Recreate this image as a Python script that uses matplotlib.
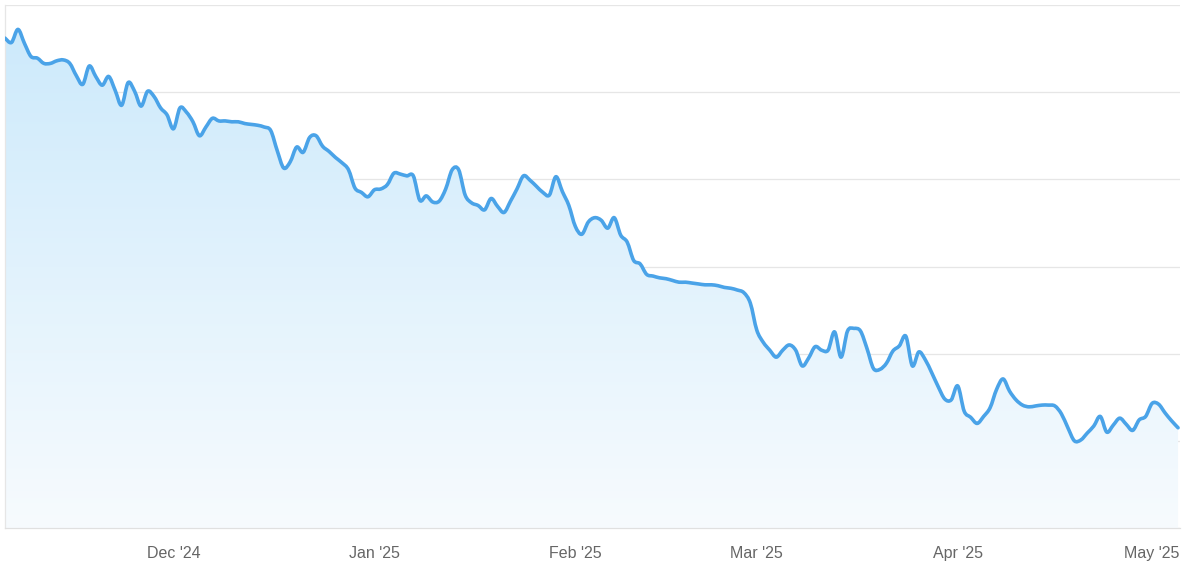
import numpy as np
import pandas as pd
import matplotlib
matplotlib.use("Agg")
import matplotlib.pyplot as plt
import matplotlib.dates as mdates
from matplotlib.path import Path
from matplotlib.patches import PathPatch
from matplotlib.colors import LinearSegmentedColormap

start_date = "2024-11-05"
values = [
    56.2, 55.7, 57.2, 55.6, 54.1, 53.9, 53.3, 53.3, 53.6, 53.7,
    53.3, 51.9, 50.9, 53.0, 51.8, 50.8, 51.8, 50.2, 48.5, 51.1,
    50.1, 48.4, 50.1, 49.5, 48.2, 47.4, 45.8, 48.2, 47.7, 46.6,
    45.0, 46.0, 47.0, 46.7, 46.7, 46.6, 46.6, 46.4, 46.3, 46.2,
    46.0, 45.6, 43.3, 41.3, 42.0, 43.7, 43.1, 44.8, 45.0, 43.8,
    43.2, 42.5, 41.9, 41.1, 39.0, 38.5, 38.0, 38.8, 38.9, 39.4,
    40.7, 40.6, 40.4, 40.4, 37.6, 38.1, 37.4, 37.5, 38.9, 41.1,
    41.1, 38.2, 37.3, 37.0, 36.5, 37.8, 36.9, 36.2, 37.5, 38.9,
    40.4, 39.9, 39.2, 38.5, 38.2, 40.3, 38.6, 37.0, 34.6, 33.7,
    35.1, 35.6, 35.3, 34.4, 35.6, 33.6, 32.8, 30.7, 30.3, 29.1,
    28.9, 28.7, 28.6, 28.4, 28.2, 28.2, 28.1, 28.0, 27.9, 27.9,
    27.8, 27.6, 27.5, 27.3, 27.0, 25.8, 22.7, 21.3, 20.4, 19.6,
    20.4, 21.0, 20.4, 18.6, 19.5, 20.8, 20.4, 20.4, 22.5, 19.6,
    22.6, 22.9, 22.6, 20.6, 18.3, 18.2, 18.9, 20.3, 20.9, 22.0,
    18.6, 20.2, 19.3, 17.8, 16.2, 14.8, 14.7, 16.3, 13.4, 12.7,
    12.0, 12.8, 13.8, 15.9, 17.1, 15.7, 14.7, 14.1, 13.9, 14.0,
    14.1, 14.1, 14.0, 13.1, 11.5, 10.0, 10.1, 10.9, 11.7, 12.8,
    11.0, 11.8, 12.6, 11.9, 11.2, 12.4, 12.8, 14.3, 14.2, 13.2,
    12.3, 11.5,
]
dates = pd.date_range(start_date, periods=len(values), freq="D")

tick_dates = ["2024-12-01", "2025-01-01", "2025-02-01", "2025-03-01", "2025-04-01", "2025-05-01"]
tick_labels = ["Dec '24", "Jan '25", "Feb '25", "Mar '25", "Apr '25", "May '25"]
y_ticks = [0, 10, 20, 30, 40, 50, 60]

line_color = "#4aa3e8"


def spline_path(x, y):
    # smooth the drawn line with bezier segments through the data points
    pts = np.column_stack([x, y])
    verts = [pts[0]]
    codes = [Path.MOVETO]
    n = len(pts)
    for i in range(n - 1):
        p0 = pts[max(i - 1, 0)]
        p1 = pts[i]
        p2 = pts[i + 1]
        p3 = pts[min(i + 2, n - 1)]
        verts += [p1 + (p2 - p0) / 6, p2 - (p3 - p1) / 6, p2]
        codes += [Path.CURVE4] * 3
    return verts, codes


fig = plt.figure(figsize=(12, 5.68), dpi=100)
ax = fig.add_axes([5 / 1200, 40 / 568, 1175 / 1200, 523 / 568])

xs = mdates.date2num(dates)
x0 = xs[0]
x1 = x0 + 181.3
ax.set_xlim(x0, x1)
ax.set_ylim(0, 60)

verts, codes = spline_path(xs, np.array(values))
line_path = Path(verts, codes)
area_path = Path(verts + [(xs[-1], 0), (xs[0], 0), verts[0]],
                 codes + [Path.LINETO, Path.LINETO, Path.CLOSEPOLY])

# gradient fill under the line
area = PathPatch(area_path, facecolor="none", edgecolor="none")
ax.add_patch(area)
cmap = LinearSegmentedColormap.from_list("fillgrad", ["#f7fbfe", "#cbe9fb"])
grad = np.linspace(0, 1, 256).reshape(-1, 1)
img = ax.imshow(grad, cmap=cmap, aspect="auto", origin="lower",
                extent=[x0, x1, 0, 60], zorder=1)
img.set_clip_path(area)

ax.add_patch(PathPatch(line_path, facecolor="none", edgecolor=line_color,
                       lw=2.6, joinstyle="round", capstyle="round", zorder=3))

ax.set_yticks(y_ticks)
ax.set_yticklabels([])
ax.set_xticks([mdates.date2num(pd.Timestamp(d)) for d in tick_dates])
ax.set_xticklabels(tick_labels, fontsize=11.5, color="#666666", family="Liberation Sans")
ax.tick_params(axis="both", length=0, pad=13)
ax.grid(axis="y", color="#e6e6e6", lw=0.9, zorder=0)
ax.set_axisbelow(True)

for s in ["top", "right"]:
    ax.spines[s].set_visible(False)
ax.spines["left"].set_color("#e6e6e6")
ax.spines["bottom"].set_color("#e0e0e0")
ax.spines["left"].set_linewidth(0.9)
ax.spines["bottom"].set_linewidth(0.9)

fig.savefig("out.png", dpi=100)
